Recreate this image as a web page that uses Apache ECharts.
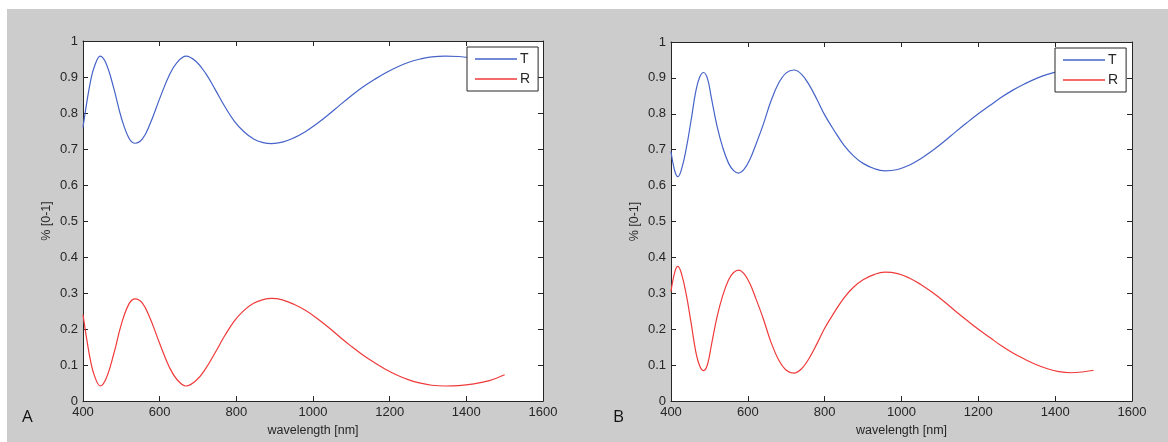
<!DOCTYPE html>
<html>
<head>
<meta charset="utf-8">
<script src="https://cdn.jsdelivr.net/npm/echarts@6/dist/echarts.min.js"></script>
<style>
html,body{margin:0;padding:0;background:#fff;}
#bg{position:absolute;left:7px;top:9px;width:1161px;height:433px;background:#cccccc;}
#chart{position:absolute;left:0;top:0;width:1168px;height:442px;}
</style>
</head>
<body>
<div id="bg"></div>
<div id="chart"></div>
<script>
// Panel A
const wlA = [400,410,420,430,445,460,480,500,520,536,555,575,600,625,645,669,695,720,745,770,795,820,845,870,892,920,950,980,1010,1040,1070,1100,1130,1160,1190,1220,1250,1280,1310,1345,1380,1420,1460,1500];
const tA  = [0.76,0.83,0.89,0.93,0.958,0.938,0.87,0.787,0.73,0.716,0.728,0.77,0.84,0.905,0.94,0.958,0.943,0.91,0.865,0.818,0.777,0.748,0.728,0.718,0.715,0.719,0.731,0.748,0.77,0.795,0.822,0.848,0.872,0.893,0.912,0.928,0.941,0.95,0.956,0.958,0.957,0.952,0.943,0.927];
const rA  = [0.24,0.17,0.11,0.07,0.042,0.062,0.13,0.213,0.27,0.284,0.272,0.23,0.16,0.095,0.06,0.042,0.057,0.09,0.135,0.182,0.223,0.252,0.272,0.282,0.285,0.281,0.269,0.252,0.23,0.205,0.178,0.152,0.128,0.107,0.088,0.072,0.059,0.05,0.044,0.042,0.043,0.048,0.057,0.073];
// Panel B
const wlB = [400,410,418,428,440,452,465,475,485,495,505,520,535,550,563,576,590,605,620,640,660,680,700,720,740,760,780,800,825,850,875,900,930,957,990,1020,1050,1080,1110,1140,1170,1200,1230,1260,1290,1320,1350,1380,1410,1440,1470,1500];
const tB  = [0.695,0.64,0.625,0.648,0.705,0.78,0.865,0.903,0.915,0.898,0.845,0.765,0.705,0.662,0.642,0.635,0.645,0.672,0.712,0.77,0.835,0.885,0.914,0.922,0.91,0.88,0.84,0.797,0.753,0.713,0.683,0.662,0.647,0.641,0.645,0.657,0.675,0.697,0.722,0.749,0.775,0.8,0.823,0.846,0.866,0.883,0.898,0.91,0.918,0.921,0.919,0.914];
const rB  = [0.305,0.36,0.375,0.352,0.295,0.22,0.135,0.097,0.085,0.102,0.155,0.235,0.295,0.338,0.358,0.365,0.355,0.328,0.288,0.23,0.165,0.115,0.086,0.078,0.09,0.12,0.16,0.203,0.247,0.287,0.317,0.338,0.353,0.359,0.355,0.343,0.325,0.303,0.278,0.251,0.225,0.2,0.177,0.154,0.134,0.117,0.102,0.09,0.082,0.079,0.081,0.086];

const xTicks = {min:400, max:1600, interval:200};
const yTicks = {min:0, max:1, interval:0.1};
const xName = 'wavelength [nm]';
const yName = '% [0-1]';
const panelLabels = ['A','B'];
const seriesNames = ['T','R'];
const colors = ['#4563c8','#f03a3a'];

const FONT = 'Liberation Sans, Arial, sans-serif';
const AX = '#262626';
const zip = (xs, ys) => xs.map((x,i)=>[x, ys[i]]);

const grids = [
  {left:83, top:41, width:460, height:362},
  {left:671, top:42, width:461, height:362}
];

const xAxes = [], yAxes = [], series = [], legends = [];
grids.forEach((g, gi) => {
  xAxes.push({
    type:'value', gridIndex:gi, position:'bottom', min:xTicks.min, max:xTicks.max, interval:xTicks.interval,
    name:xName, nameLocation:'middle', nameGap:22,
    nameTextStyle:{fontFamily:FONT, fontSize:12.5, color:AX},
    axisLine:{show:true, onZero:false, lineStyle:{color:AX, width:1}},
    axisTick:{show:true, inside:true, length:5, lineStyle:{color:AX}},
    axisLabel:{fontFamily:FONT, fontSize:13, color:AX, margin:5, formatter:v=>String(v)},
    splitLine:{show:false}
  });
  xAxes.push({
    type:'value', gridIndex:gi, position:'top', min:xTicks.min, max:xTicks.max, interval:xTicks.interval,
    axisLine:{show:true, onZero:false, lineStyle:{color:AX, width:1}},
    axisTick:{show:true, inside:true, length:5, lineStyle:{color:AX}},
    axisLabel:{show:false}, splitLine:{show:false}
  });
  yAxes.push({
    type:'value', gridIndex:gi, position:'left', min:yTicks.min, max:yTicks.max, interval:yTicks.interval,
    name:yName, nameLocation:'middle', nameGap:30, nameRotate:90,
    nameTextStyle:{fontFamily:FONT, fontSize:12.5, color:AX},
    axisLine:{show:true, onZero:false, lineStyle:{color:AX, width:1}},
    axisTick:{show:true, inside:true, length:5, lineStyle:{color:AX}},
    axisLabel:{fontFamily:FONT, fontSize:13, color:AX, margin:5, formatter:v=>String(+v.toFixed(1))},
    splitLine:{show:false}
  });
  yAxes.push({
    type:'value', gridIndex:gi, position:'right', min:yTicks.min, max:yTicks.max, interval:yTicks.interval,
    axisLine:{show:true, onZero:false, lineStyle:{color:AX, width:1}},
    axisTick:{show:true, inside:true, length:5, lineStyle:{color:AX}},
    axisLabel:{show:false}, splitLine:{show:false}
  });
});

const dataSets = [[zip(wlA,tA), zip(wlA,rA)], [zip(wlB,tB), zip(wlB,rB)]];
dataSets.forEach((ds, gi) => {
  ds.forEach((d, si) => {
    series.push({
      type:'line', name:seriesNames[si], xAxisIndex:gi*2, yAxisIndex:gi*2,
      data:d, smooth:0.4, symbol:'none', showSymbol:false, clip:true,
      lineStyle:{color:colors[si], width:1.2}, itemStyle:{color:colors[si]},
      silent:true, animation:false
    });
  });
});

const legendPos = [{left:467, top:47}, {left:1055, top:48}];
legendPos.forEach(p => {
  legends.push({
    left:p.left, top:p.top, orient:'vertical',
    data:seriesNames.map(n => ({name:n, icon:'path://M0,0 L42,0 L42,1.3 L0,1.3 Z'})),
    itemWidth:42, itemHeight:14, itemGap:6, padding:[5,8,5,8],
    backgroundColor:'#ffffff', borderColor:AX, borderWidth:1, borderRadius:0,
    textStyle:{fontFamily:FONT, fontSize:14, color:AX, padding:[0,0,0,-2]},
    selectedMode:false
  });
});

const chart = echarts.init(document.getElementById('chart'), null, {renderer:'canvas'});
chart.setOption({
  backgroundColor:'transparent',
  animation:false,
  grid: grids.map(g => Object.assign({show:true, backgroundColor:'#ffffff', borderWidth:0, containLabel:false}, g)),
  xAxis:xAxes, yAxis:yAxes, series:series, legend:legends,
  graphic:[
    {type:'text', left:22, top:409, style:{text:panelLabels[0], font:'17px "Open Sans", sans-serif', fill:'#111'}},
    {type:'text', left:613, top:409, style:{text:panelLabels[1], font:'17px "Open Sans", sans-serif', fill:'#111'}}
  ]
});
</script>
</body>
</html>
